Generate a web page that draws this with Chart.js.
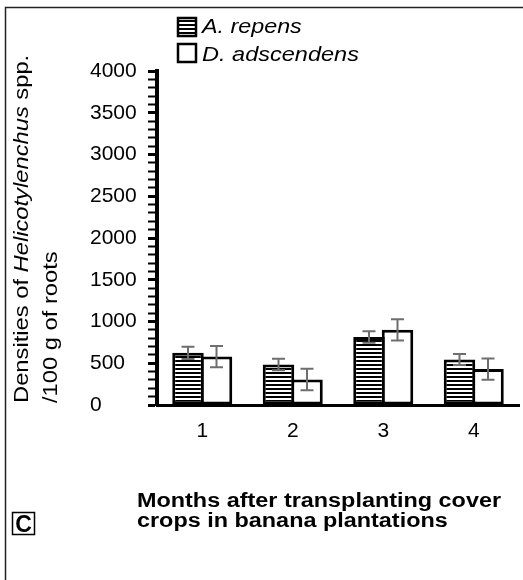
<!DOCTYPE html>
<html>
<head>
<meta charset="utf-8">
<script src="https://cdn.jsdelivr.net/npm/chart.js@4"></script>
<style>
html,body{margin:0;padding:0;background:#fff;}
#wrap{width:523px;height:580px;}
</style>
</head>
<body>
<div id="wrap"><canvas id="c" width="523" height="580"></canvas></div>
<script>
const months = ['1', '2', '3', '4'];
const repensMean = [625, 485, 815, 545];
const repensErr = [73, 70, 68, 65];
const adscMean = [580, 305, 900, 430];
const adscErr = [127, 128, 128, 128];
const seriesNames = ['A. repens', 'D. adscendens'];
const yTitleLine1 = [['Densities of ', 'normal'], ['Helicotylenchus', 'italic'], [' spp.', 'normal']];
const yTitleLine2 = '/100 g of roots';
const xTitleLines = ['Months after transplanting cover', 'crops in banana plantations'];
const panelLetter = 'C';

const FONT = '"Liberation Sans", Arial, sans-serif';

function makeHatch() {
  const p = document.createElement('canvas');
  p.width = 4; p.height = 4;
  const g = p.getContext('2d');
  g.fillStyle = '#fff'; g.fillRect(0, 0, 4, 4);
  g.fillStyle = '#000'; g.fillRect(0, 0, 4, 2);
  return g.createPattern(p, 'repeat');
}
const ctx0 = document.getElementById('c').getContext('2d');
const hatch = makeHatch();

const errors = [repensErr, adscErr];
const means = [repensMean, adscMean];

function wideText(ctx, text, x, y, sx) {
  ctx.save();
  ctx.translate(x, y);
  ctx.scale(sx, 1);
  ctx.fillText(text, 0, 0);
  ctx.restore();
}

const decor = {
  id: 'decor',
  afterDatasetsDraw(chart) {
    const ctx = chart.ctx;
    const y = chart.scales.y;
    ctx.save();
    ctx.strokeStyle = '#6e6e6e';
    ctx.lineWidth = 2;
    for (let d = 0; d < 2; d++) {
      const meta = chart.getDatasetMeta(d);
      meta.data.forEach((bar, j) => {
        const x = bar.x;
        const yt = y.getPixelForValue(means[d][j] + errors[d][j]);
        const yb = y.getPixelForValue(means[d][j] - errors[d][j]);
        ctx.beginPath();
        ctx.moveTo(x, yt); ctx.lineTo(x, yb);
        ctx.moveTo(x - 6.5, yt); ctx.lineTo(x + 6.5, yt);
        ctx.moveTo(x - 6.5, yb); ctx.lineTo(x + 6.5, yb);
        ctx.stroke();
      });
    }
    ctx.restore();
  },
  afterDraw(chart) {
    const ctx = chart.ctx;
    ctx.save();
    // frame
    ctx.strokeStyle = '#222';
    ctx.lineWidth = 1.5;
    ctx.beginPath();
    ctx.moveTo(5.5, 580); ctx.lineTo(5.5, 7.5); ctx.lineTo(523, 7.5);
    ctx.stroke();

    // legend
    ctx.lineWidth = 2.5;
    ctx.strokeStyle = '#000';
    ctx.fillStyle = hatch;
    ctx.fillRect(178, 18, 18, 18);
    ctx.strokeRect(178, 18, 18, 18);
    ctx.fillStyle = '#fff';
    ctx.fillRect(178, 44, 18, 18);
    ctx.strokeRect(178, 44, 18, 18);
    ctx.fillStyle = '#000';
    ctx.font = 'italic 21px ' + FONT;
    ctx.textAlign = 'left';
    ctx.textBaseline = 'alphabetic';
    wideText(ctx, seriesNames[0], 202, 33, 1.11);
    wideText(ctx, seriesNames[1], 202, 61, 1.12);

    // y title (rotated)
    ctx.save();
    ctx.translate(28, 403);
    ctx.rotate(-Math.PI / 2);
    ctx.scale(1.13, 1);
    let xx = 0;
    yTitleLine1.forEach(([t, st]) => {
      ctx.font = (st === 'italic' ? 'italic ' : '') + '21px ' + FONT;
      ctx.fillText(t, xx, 0);
      xx += ctx.measureText(t).width;
    });
    ctx.font = '21px ' + FONT;
    ctx.fillText(yTitleLine2, 0, 29);
    ctx.restore();

    // x title
    ctx.font = 'bold 20px ' + FONT;
    wideText(ctx, xTitleLines[0], 137, 507, 1.17);
    wideText(ctx, xTitleLines[1], 137, 527, 1.17);

    // panel letter
    ctx.lineWidth = 1.5;
    ctx.strokeRect(12.5, 512.5, 22, 22);
    ctx.font = 'bold 23px ' + FONT;
    ctx.textAlign = 'center';
    ctx.fillText(panelLetter, 23.5, 532);
    ctx.restore();
  }
};

new Chart(ctx0, {
  type: 'bar',
  data: {
    labels: months,
    datasets: [
      { label: seriesNames[0], data: repensMean, backgroundColor: hatch, borderColor: '#000', borderWidth: 3, borderSkipped: false },
      { label: seriesNames[1], data: adscMean, backgroundColor: '#fff', borderColor: '#000', borderWidth: 3, borderSkipped: false }
    ]
  },
  options: {
    responsive: false,
    animation: false,
    devicePixelRatio: 1,
    categoryPercentage: 0.63,
    barPercentage: 1.105,
    layout: { padding: { left: 90, top: 71, right: 4, bottom: 135 } },
    plugins: { legend: { display: false }, tooltip: { enabled: false } },
    scales: {
      x: {
        type: 'category',
        grid: { display: false, drawTicks: false },
        border: { display: true, color: '#000', width: 3 },
        ticks: { color: '#000', font: { family: FONT, size: 21 }, padding: 14 },
        afterFit(s) { s.height = 40; }
      },
      y: {
        min: 0, max: 4000,
        grid: {
          display: true, drawOnChartArea: false, drawTicks: true, tickLength: 9,
          tickColor: '#000',
          tickWidth: (c) => (c.tick && c.tick.value % 500 === 0) ? 3 : 2
        },
        border: { display: true, color: '#000', width: 4 },
        ticks: {
          stepSize: 100, autoSkip: false, crossAlign: 'far', color: '#000',
          font: { family: FONT, size: 21 },
          callback: (v) => (v % 500 === 0 ? String(v) : '')
        },
        afterFit(s) { s.width = 67; }
      }
    }
  },
  plugins: [decor]
});
</script>
</body>
</html>
